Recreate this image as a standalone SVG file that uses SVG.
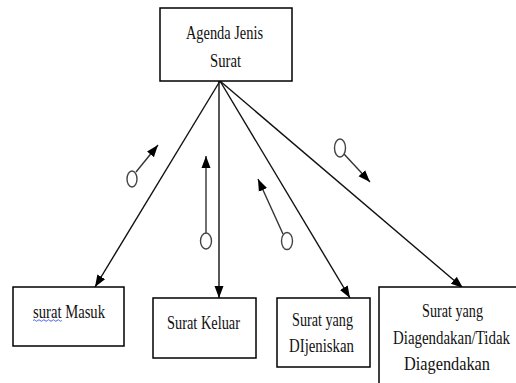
<svg xmlns="http://www.w3.org/2000/svg" width="516" height="383" viewBox="0 0 516 383">
  <style>
    .box { fill: #fff; stroke: #000; stroke-width: 1.5; }
    .lbl { font-family: "Liberation Serif", "Times New Roman", serif; font-size: 19px; fill: #111; }
    .conn { stroke: #111; stroke-width: 1.4; fill: none; }
    .flow { stroke: #333; stroke-width: 1.4; fill: none; }
    .couple { fill: #fff; stroke: #444; stroke-width: 1.4; }
  </style>
  <defs>
    <marker id="arrow" viewBox="0 0 12 10" refX="12" refY="5" markerWidth="12" markerHeight="10" markerUnits="userSpaceOnUse" orient="auto">
      <path d="M0,0.5 L12,5 L0,9.5 Z" fill="#000"/>
    </marker>
  </defs>
  <rect width="516" height="383" fill="#fff"/>

  <!-- connectors from the agenda box to each letter category -->
  <g id="connectors">
    <line class="conn" x1="220" y1="81" x2="95" y2="287" marker-end="url(#arrow)"/>
    <line class="conn" x1="219" y1="81" x2="219" y2="298" marker-end="url(#arrow)"/>
    <line class="conn" x1="220" y1="81" x2="350" y2="298" marker-end="url(#arrow)"/>
    <line class="conn" x1="220" y1="81" x2="463" y2="288" marker-end="url(#arrow)"/>
  </g>

  <!-- data couples along each connector -->
  <g id="couples">
    <line class="flow" x1="136" y1="172" x2="158" y2="145" marker-end="url(#arrow)"/>
    <ellipse class="couple" cx="132" cy="179" rx="5" ry="8"/>
    <line class="flow" x1="206" y1="233" x2="206" y2="156" marker-end="url(#arrow)"/>
    <ellipse class="couple" cx="206" cy="241" rx="5.5" ry="8"/>
    <line class="flow" x1="283" y1="234" x2="258" y2="179" marker-end="url(#arrow)"/>
    <ellipse class="couple" cx="287" cy="241" rx="5.5" ry="8.5"/>
    <line class="flow" x1="344" y1="154" x2="370" y2="182" marker-end="url(#arrow)"/>
    <ellipse class="couple" cx="340" cy="148" rx="5.5" ry="9"/>
  </g>

  <g id="agenda">
    <rect class="box" x="160" y="8" width="132" height="73"/>
    <text class="lbl" x="186" y="39" textLength="77" lengthAdjust="spacingAndGlyphs">Agenda Jenis</text>
    <text class="lbl" x="210" y="67" textLength="31" lengthAdjust="spacingAndGlyphs">Surat</text>
  </g>

  <g id="masuk">
    <rect class="box" x="13" y="287" width="111" height="59"/>
    <text class="lbl" x="33" y="318" textLength="72" lengthAdjust="spacingAndGlyphs">surat Masuk</text>
    <path d="M33,320.5 q1.2,-1.5 2.4,0 t2.4,0 t2.4,0 t2.4,0 t2.4,0 t2.4,0 t2.4,0 t2.4,0 t2.4,0 t2.4,0 t2.4,0 t2.4,0" fill="none" stroke="#3050e0" stroke-width="0.9"/>
  </g>

  <g id="keluar">
    <rect class="box" x="153" y="298" width="103" height="60"/>
    <text class="lbl" x="167" y="329" textLength="73" lengthAdjust="spacingAndGlyphs">Surat Keluar</text>
  </g>

  <g id="dijeniskan">
    <rect class="box" x="277" y="298" width="93" height="69"/>
    <text class="lbl" x="292" y="326" textLength="61" lengthAdjust="spacingAndGlyphs">Surat yang</text>
    <text class="lbl" x="289" y="352" textLength="65" lengthAdjust="spacingAndGlyphs">DIjeniskan</text>
  </g>

  <g id="diagendakan">
    <rect class="box" x="379" y="287" width="150" height="110"/>
    <text class="lbl" x="422" y="317" textLength="61" lengthAdjust="spacingAndGlyphs">Surat yang</text>
    <text class="lbl" x="393" y="344" textLength="117" lengthAdjust="spacingAndGlyphs">Diagendakan/Tidak</text>
    <text class="lbl" x="404" y="370" textLength="86" lengthAdjust="spacingAndGlyphs">Diagendakan</text>
  </g>
</svg>
